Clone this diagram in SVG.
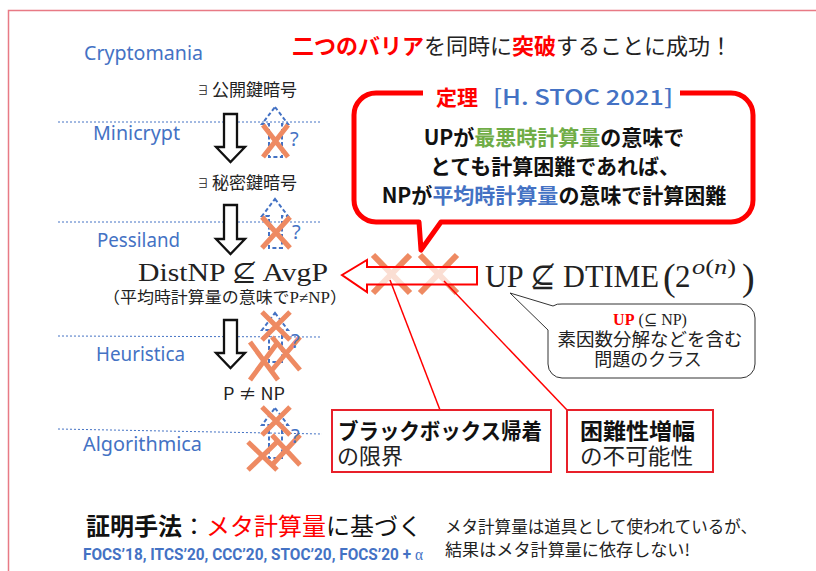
<svg xmlns="http://www.w3.org/2000/svg" width="816" height="571" viewBox="0 0 816 571">
<style>
.jp{font-family:"Noto Sans CJK JP","Noto Sans",sans-serif;}
.ser{font-family:"Liberation Serif","DejaVu Serif","Noto Sans CJK JP",serif;}
.world{font-family:"Noto Sans","Noto Sans CJK JP",sans-serif;fill:#4472C4;font-size:19.5px;}
.dot{stroke:#4472C4;stroke-width:1;stroke-dasharray:2 2;fill:none;}
.barr{fill:#fff;stroke:#111;stroke-width:2.3;stroke-linejoin:miter;}
.darr{fill:none;stroke:#4472C4;stroke-width:2;stroke-dasharray:4 2.5;}
.x{stroke:#EE8A62;stroke-width:5;fill:none;}
.xb{stroke:#EE8A62;stroke-width:6;fill:none;}
.q{font-family:"Noto Sans",sans-serif;fill:#4472C4;font-size:20px;}
.red{fill:#FF0000;}
.blue{fill:#4472C4;}
.green{fill:#70AD47;}
.rl{stroke:#FF0000;stroke-width:1.5;fill:none;}
</style>

<g id="frame">
<path d="M816 10.5 H8.5 V571" fill="none" stroke="#E87A85" stroke-width="1.5"/>
</g>

<g id="headline">
<text class="jp" x="292" y="54" font-size="22"><tspan class="red" font-weight="bold">二つのバリア</tspan><tspan fill="#222">を同時に</tspan><tspan class="red" font-weight="bold">突破</tspan><tspan fill="#222">することに成功！</tspan></text>
</g>

<g id="worlds">
<text class="world" x="84" y="60" textLength="119" lengthAdjust="spacingAndGlyphs">Cryptomania</text>
<text class="world" x="93" y="140" textLength="87" lengthAdjust="spacingAndGlyphs">Minicrypt</text>
<text class="world" x="97" y="247" textLength="83" lengthAdjust="spacingAndGlyphs">Pessiland</text>
<text class="world" x="96" y="361" textLength="89" lengthAdjust="spacingAndGlyphs">Heuristica</text>
<text class="world" x="83" y="451" textLength="119" lengthAdjust="spacingAndGlyphs">Algorithmica</text>
</g>

<g id="dividers">
<line class="dot" x1="58" y1="122" x2="322" y2="122"/>
<line class="dot" x1="58" y1="222" x2="322" y2="222"/>
<line class="dot" x1="58" y1="336" x2="322" y2="337"/>
<line class="dot" x1="58" y1="429" x2="322" y2="434"/>
</g>

<g id="pkc">
<text class="jp" x="197" y="95" font-size="12" fill="#222">∃</text>
<text class="jp" x="212" y="96" font-size="17" fill="#222">公開鍵暗号</text>
</g>
<g id="skc">
<text class="jp" x="197" y="188" font-size="12" fill="#222">∃</text>
<text class="jp" x="212" y="189" font-size="17" fill="#222">秘密鍵暗号</text>
</g>
<g id="distnp">
<text class="ser" x="138" y="281" font-size="26" fill="#222" textLength="190" lengthAdjust="spacingAndGlyphs">DistNP ⊈ AvgP</text>
<text class="jp" x="103" y="303" font-size="16" fill="#222" textLength="244" lengthAdjust="spacingAndGlyphs">（平均時計算量の意味で<tspan class="ser">P≠NP</tspan>）</text>
</g>
<g id="pnp">
<text class="jp" x="223" y="400" font-size="17" fill="#222" textLength="62" lengthAdjust="spacingAndGlyphs">P ≠ NP</text>
</g>

<g id="connectors">
<path class="barr" d="M224 114 V147 H216 L230.5 162 L245 147 H237 V114 Z"/>
<path class="barr" d="M224 205 V239 H216 L230.5 254 L245 239 H237 V205 Z"/>
<path class="barr" d="M224 320 V353 H216 L230.5 368 L245 353 H237 V320 Z"/>
<path class="darr" d="M275 107 L288 124 H282 V157 H269 V124 H262 Z"/>
<path class="darr" d="M275 199 L288 216 H282 V248 H269 V216 H262 Z"/>
<path class="darr" d="M275 313 L288 330 H282 V362 H269 V330 H262 Z"/>
<path class="darr" d="M275 408 L288 425 H282 V458 H269 V425 H262 Z"/>
<path class="x" d="M263 125 L288 157 M288 125 L263 157"/>
<path class="x" d="M262 217 L290 248 M290 217 L262 248"/>
<path class="x" d="M262 312 L290 340 M290 312 L262 340"/>
<path class="x" d="M250 380 L278 342 M250 342 L278 380"/>
<path class="x" d="M272 337 L300 370 M300 337 L272 370"/>
<path class="x" d="M262 407 L290 435 M290 407 L262 435"/>
<path class="x" d="M248 442 L277 470 M277 442 L248 470"/>
<path class="x" d="M272 435 L300 465 M300 435 L272 465"/>
<path class="xb" d="M373 255 L410 293 M410 255 L373 293"/>
<path class="xb" d="M420 255 L457 293 M457 255 L420 293"/>
<path d="M342 275 L367 260 V267 H477 V284.5 H367 V292 Z" fill="#fff" fill-opacity="0.72" stroke="#FF0000" stroke-width="2"/>
<line class="rl" x1="390" y1="280" x2="440" y2="410"/>
<line class="rl" x1="444" y1="281" x2="567" y2="410"/>
</g>

<g id="question-marks">
<text class="q" x="290" y="146">?</text>
<text class="q" x="292" y="239">?</text>
<text class="q" x="291" y="348">?</text>
<text class="q" x="291" y="443">?</text>
</g>

<g id="theorem">
<path d="M376 93 H731 A22 22 0 0 1 753 115 V200 A22 22 0 0 1 731 222 H441 L421 250 L419 222 H376 A22 22 0 0 1 354 200 V115 A22 22 0 0 1 376 93 Z" fill="#fff" stroke="#FF0000" stroke-width="5" stroke-linejoin="round"/>
<rect x="423" y="86" width="257" height="14" fill="#fff"/>
<text class="jp red" x="436" y="105" font-size="21" font-weight="bold">定理</text>
<text class="jp blue" x="493" y="105" font-size="21" font-weight="500" textLength="180" lengthAdjust="spacingAndGlyphs">[H. STOC 2021]</text>
<text class="jp" x="554" y="145" font-size="21" font-weight="bold" fill="#111" text-anchor="middle">UPが<tspan class="green">最悪時計算量</tspan>の意味で</text>
<text class="jp" x="555" y="174" font-size="21" font-weight="bold" fill="#111" text-anchor="middle">とても計算困難であれば、</text>
<text class="jp" x="554" y="203" font-size="21" font-weight="bold" fill="#111" text-anchor="middle">NPが<tspan class="blue">平均時計算量</tspan>の意味で計算困難</text>
</g>

<g id="up-dtime">
<text class="ser" x="485" y="287" font-size="31" fill="#222" textLength="174" lengthAdjust="spacingAndGlyphs">UP ⊈ DTIME</text>
<text class="ser" x="663" y="290" font-size="38" fill="#222">(</text>
<text class="ser" x="675" y="287" font-size="31" fill="#222">2</text>
<text class="ser" x="692" y="274" font-size="20" fill="#222" textLength="44" lengthAdjust="spacingAndGlyphs"><tspan font-style="italic">o</tspan>(<tspan font-style="italic">n</tspan>)</text>
<text class="ser" x="742" y="290" font-size="38" fill="#222">)</text>
</g>

<g id="up-callout">
<path d="M562 304 H741 A14 14 0 0 1 755 318 V364 A14 14 0 0 1 741 378 H562 A14 14 0 0 1 548 364 V330 L510 293 L553 306 A14 14 0 0 1 562 304 Z" fill="#fff" stroke="#333" stroke-width="1"/>
<text class="ser" x="650" y="325" font-size="16" fill="#222" text-anchor="middle"><tspan class="red" font-weight="bold">UP</tspan> (⊆ NP)</text>
<text class="jp" x="650" y="346" font-size="18.5" fill="#222" text-anchor="middle">素因数分解などを含む</text>
<text class="jp" x="648" y="366" font-size="18" fill="#222" text-anchor="middle">問題のクラス</text>
</g>

<g id="blackbox">
<rect x="332" y="410" width="219" height="62" fill="#fff" stroke="#E8202A" stroke-width="2"/>
<text class="jp" x="338" y="439" font-size="21.5" font-weight="bold" fill="#111" textLength="204" lengthAdjust="spacingAndGlyphs">ブラックボックス帰着</text>
<text class="jp" x="337" y="464" font-size="22" fill="#222">の限界</text>
</g>

<g id="amplification">
<rect x="567" y="410" width="146" height="62" fill="#fff" stroke="#E8202A" stroke-width="2"/>
<text class="jp" x="580" y="439" font-size="22" font-weight="bold" fill="#111" textLength="115" lengthAdjust="spacingAndGlyphs">困難性増幅</text>
<text class="jp" x="580" y="464" font-size="22" fill="#222" textLength="113" lengthAdjust="spacingAndGlyphs">の不可能性</text>
</g>

<g id="method">
<text class="jp" x="86" y="535" font-size="24" fill="#111"><tspan font-weight="bold">証明手法</tspan>：<tspan class="red">メタ計算量</tspan>に基づく</text>
<text x="83" y="560" font-family="Roboto,'Liberation Sans',sans-serif" font-size="16" font-weight="bold" fill="#4472C4" textLength="340" lengthAdjust="spacingAndGlyphs">FOCS’18, ITCS’20, CCC’20, STOC’20, FOCS’20 + <tspan font-weight="normal" font-family="'Liberation Serif',serif">α</tspan></text>
</g>

<g id="note">
<text class="jp" x="445" y="533" font-size="16.5" fill="#222" textLength="312" lengthAdjust="spacingAndGlyphs">メタ計算量は道具として使われているが、</text>
<text class="jp" x="445" y="556" font-size="16.5" fill="#222" textLength="245" lengthAdjust="spacingAndGlyphs">結果はメタ計算量に依存しない!</text>
</g>
</svg>
